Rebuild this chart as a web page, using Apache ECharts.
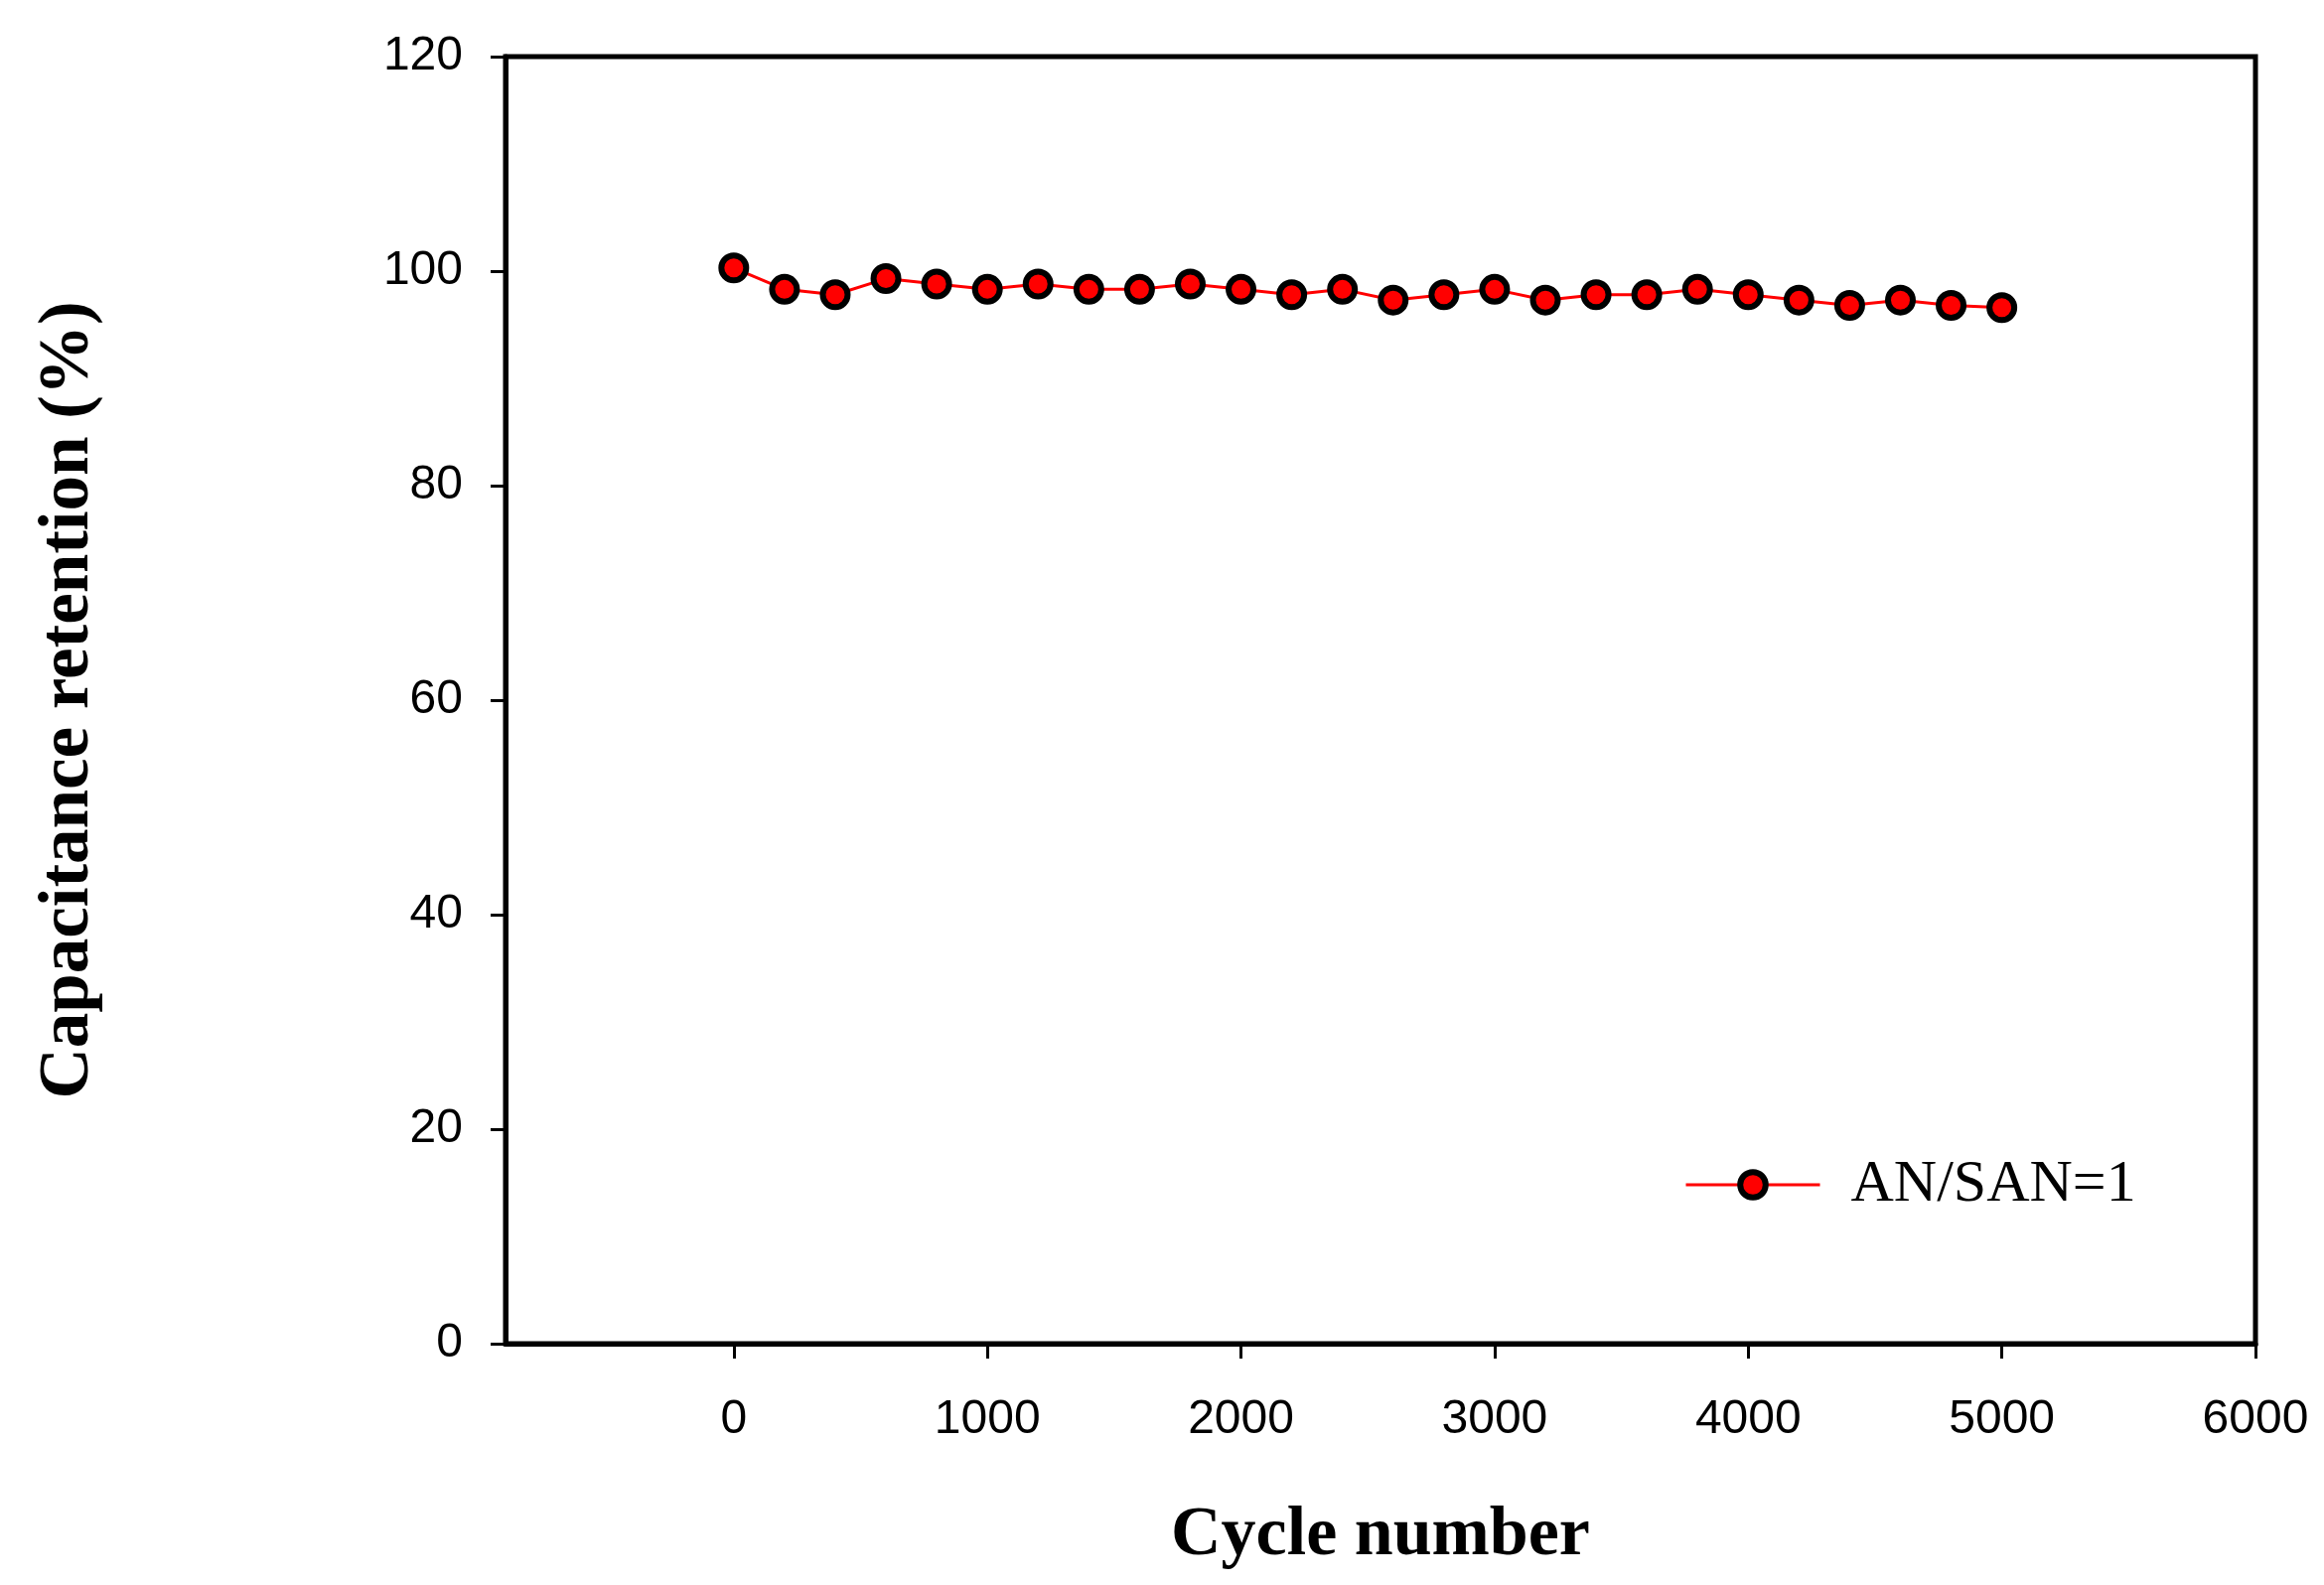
<!DOCTYPE html>
<html>
<head>
<meta charset="utf-8">
<title>Capacitance retention</title>
<script src="https://cdn.jsdelivr.net/npm/echarts@6/dist/echarts.min.js"></script>
<style>
  html, body { margin: 0; padding: 0; background: #fff; }
  #chart { width: 2340px; height: 1596px; }
</style>
</head>
<body>
<div id="chart"></div>
<script>
// cycle numbers and retention values
const cycles = [0, 200, 400, 600, 800, 1000, 1200, 1400, 1600, 1800, 2000, 2200, 2400,
  2600, 2800, 3000, 3200, 3400, 3600, 3800, 4000, 4200, 4400, 4600, 4800, 5000];
const retention = [100.3, 98.3, 97.8, 99.3, 98.8, 98.3, 98.8, 98.3, 98.3, 98.8, 98.3, 97.8, 98.3,
  97.3, 97.8, 98.3, 97.3, 97.8, 97.8, 98.3, 97.8, 97.3, 96.8, 97.3, 96.8, 96.6];
const xTicks = [0, 1000, 2000, 3000, 4000, 5000, 6000];
const seriesName = 'AN/SAN=1';

const chart = echarts.init(document.getElementById('chart'));

const option = {
  backgroundColor: '#fff',
  animation: false,
  grid: {
    left: 509,
    right: 69,
    top: 57,
    bottom: 243,
    show: true,
    borderColor: '#000',
    borderWidth: 5
  },
  legend: {
    data: [seriesName],
    left: 1696,
    top: 1163,
    padding: 0,
    itemWidth: 135,
    itemHeight: 32,
    lineStyle: { width: 3 },
    itemStyle: { borderWidth: 6, borderColor: '#000' },
    textStyle: {
      fontFamily: 'Liberation Serif',
      fontSize: 60,
      color: '#000',
      padding: [0, 0, 0, 26]
    }
  },
  xAxis: {
    type: 'value',
    min: -900,
    max: 6000,
    name: 'Cycle number',
    nameLocation: 'middle',
    nameGap: 159,
    nameTextStyle: {
      fontFamily: 'Liberation Serif',
      fontWeight: 'bold',
      fontSize: 70,
      color: '#000'
    },
    axisLine: { onZero: false, lineStyle: { color: '#000', width: 5 } },
    axisTick: {
      show: true,
      length: 15,
      customValues: xTicks,
      lineStyle: { color: '#000', width: 3 }
    },
    axisLabel: {
      customValues: xTicks,
      margin: 53,
      fontFamily: 'Liberation Sans',
      fontSize: 48,
      color: '#000',
      formatter: v => String(v)
    },
    splitLine: { show: false }
  },
  yAxis: {
    type: 'value',
    min: 0,
    max: 120,
    interval: 20,
    name: 'Capacitance retention (%)',
    nameLocation: 'middle',
    nameGap: 404,
    nameTextStyle: {
      fontFamily: 'Liberation Serif',
      fontWeight: 'bold',
      fontSize: 71,
      color: '#000'
    },
    axisLine: { show: true, onZero: false, lineStyle: { color: '#000', width: 5 } },
    axisTick: { show: true, length: 15, lineStyle: { color: '#000', width: 3 } },
    axisLabel: {
      margin: 43,
      fontFamily: 'Liberation Sans',
      fontSize: 48,
      color: '#000'
    },
    splitLine: { show: false }
  },
  series: [
    {
      name: seriesName,
      type: 'line',
      data: cycles.map((c, i) => [c, retention[i]]),
      symbol: 'circle',
      symbolSize: 25,
      lineStyle: { color: '#ff0000', width: 3 },
      itemStyle: { color: '#ff0000', borderColor: '#000', borderWidth: 6 }
    }
  ]
};

chart.setOption(option);
</script>
</body>
</html>
